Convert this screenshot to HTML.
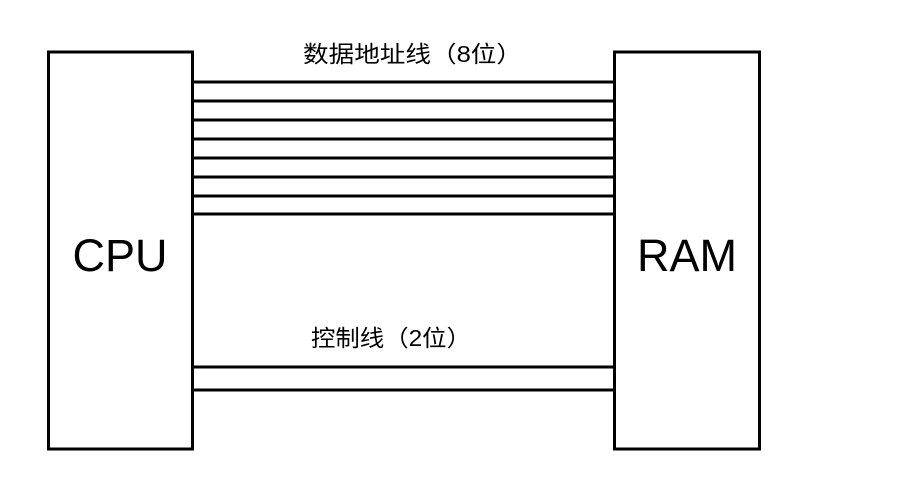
<!DOCTYPE html>
<html><head><meta charset="utf-8"><style>html,body{margin:0;padding:0;background:#fff}</style></head>
<body>
<svg width="899" height="477" xmlns="http://www.w3.org/2000/svg">
<rect width="899" height="477" fill="#fff"/>
<g stroke="#000" stroke-width="3" fill="none">
<rect x="48.5" y="52" width="144" height="397"/>
<rect x="614.5" y="52" width="145" height="397"/>
<line x1="193" y1="82" x2="614" y2="82"/>
<line x1="193" y1="101" x2="614" y2="101"/>
<line x1="193" y1="120" x2="614" y2="120"/>
<line x1="193" y1="139" x2="614" y2="139"/>
<line x1="193" y1="158" x2="614" y2="158"/>
<line x1="193" y1="177" x2="614" y2="177"/>
<line x1="193" y1="196" x2="614" y2="196"/>
<line x1="193" y1="214" x2="614" y2="214"/>
<line x1="193" y1="367" x2="614" y2="367"/>
<line x1="193" y1="390" x2="614" y2="390"/>
</g>
<g font-family="Liberation Sans, Noto Sans CJK SC, sans-serif" fill="#000">
<text x="303" y="62" font-size="23" textLength="219" lengthAdjust="spacingAndGlyphs">数据地址线（8位）</text>
<text x="311" y="346" font-size="23" textLength="160" lengthAdjust="spacingAndGlyphs">控制线（2位）</text>
<text x="120" y="271" font-size="45" text-anchor="middle">CPU</text>
<text x="687" y="271" font-size="45" text-anchor="middle">RAM</text>
</g>
</svg>
</body></html>
